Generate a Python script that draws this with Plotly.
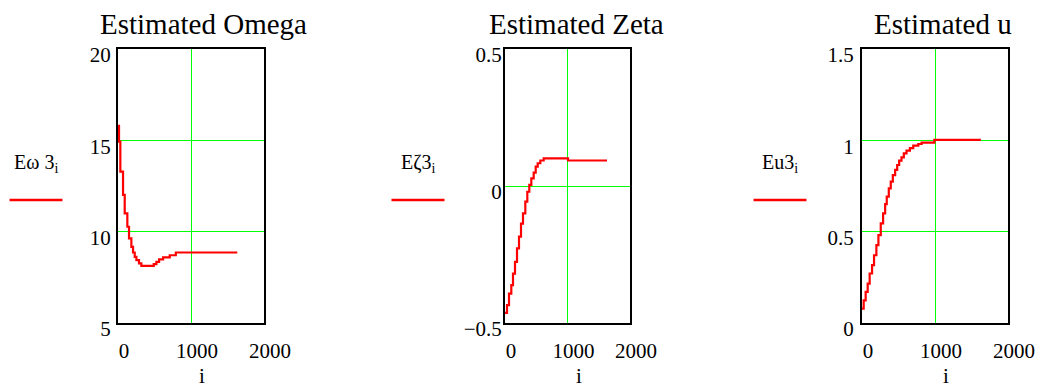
import plotly.graph_objects as go

# ---- data ----
omega_i = [0, 14, 32, 69, 92, 128, 151, 183, 206, 229, 252, 288, 320, 458, 490, 526, 563, 618, 709, 792, 1634]
omega_v = [15.79, 14.93, 13.29, 12.01, 11.0, 10.27, 9.63, 9.17, 8.86, 8.62, 8.44, 8.26, 8.13, 8.13, 8.22, 8.35, 8.48, 8.59, 8.71, 8.86, 8.86]

zeta_i = [0, 32, 64, 101, 128, 160, 192, 224, 256, 288, 325, 357, 389, 421, 459, 491, 523, 565, 619, 992, 1008, 1632]
zeta_v = [-0.463, -0.435, -0.393, -0.362, -0.32, -0.277, -0.228, -0.185, -0.137, -0.1, -0.057, -0.021, 0.004,
          0.028, 0.049, 0.071, 0.083, 0.093, 0.101, 0.101, 0.093, 0.093]

u_i = [0, 23, 50, 78, 105, 138, 165, 197, 225, 257, 289, 317, 339, 367, 394, 422, 454, 482, 509, 541, 573,
       610, 656, 702, 771, 817, 977, 991, 1628]
u_v = [0.079, 0.124, 0.17, 0.216, 0.271, 0.317, 0.371, 0.426, 0.481, 0.545, 0.6, 0.651, 0.692, 0.737, 0.774,
       0.81, 0.838, 0.865, 0.889, 0.907, 0.929, 0.944, 0.957, 0.971, 0.98, 0.988, 0.988, 1.002, 1.002]

titles = ["Estimated Omega", "Estimated Zeta", "Estimated u"]
legend_labels = ["Eω 3<sub>i</sub>", "Eζ3<sub>i</sub>", "Eu3<sub>i</sub>"]
x_ticks = [0, 1000, 2000]
x_tick_text = ["0", "1000", "2000"]
omega_ticks = [5, 10, 15, 20]
zeta_ticks = [-0.5, 0, 0.5]
u_ticks = [0, 0.5, 1, 1.5]
omega_tick_text = ["5", "10", "15", "20"]
zeta_tick_text = ["\u22120.5", "0", "0.5"]
u_tick_text = ["0", "0.5", "1", "1.5"]
y_ticks = [omega_ticks, zeta_ticks, u_ticks]
y_tick_text = [omega_tick_text, zeta_tick_text, u_tick_text]
y_ranges = [[5, 20], [-0.5, 0.5], [0, 1.5]]

W, H = 1041, 390
# panel pixel geometry
px_left = [118, 505, 862]
px_right = [264, 630, 1008]
py_top, py_bot = 49, 323
title_cx = [203, 576, 943]
legend_cx = [36, 418, 780]
y_standoff = [1, -3, 2]

FONT = "Liberation Serif"
series = [(omega_i, omega_v), (zeta_i, zeta_v), (u_i, u_v)]

fig = go.Figure()
for k in range(3):
    xs, ys = series[k]
    sfx = "" if k == 0 else str(k + 1)
    fig.add_trace(go.Scatter(x=xs, y=ys, mode="lines", line=dict(color="#ff0000", width=2.2, shape="hv"),
                             xaxis="x" + sfx, yaxis="y" + sfx, showlegend=False, hoverinfo="skip"))
    common = dict(showline=True, linecolor="black", linewidth=2, mirror=True, automargin=False,
                  showgrid=True, gridcolor="#00ff00", gridwidth=1, zeroline=False, ticks="",
                  tickfont=dict(family=FONT, size=21, color="black"))
    fig.layout["xaxis" + sfx] = dict(
        domain=[px_left[k] / W, px_right[k] / W], range=[0, 2000], tickvals=x_ticks,
        ticktext=x_tick_text, anchor="y" + sfx, ticklabelshift=6, ticklabelstandoff=8, **common)
    fig.layout["yaxis" + sfx] = dict(
        domain=[1 - py_bot / H, 1 - py_top / H], range=y_ranges[k], tickvals=y_ticks[k],
        ticktext=y_tick_text[k], anchor="x" + sfx, ticklabelshift=6, ticklabelstandoff=y_standoff[k], **common)
    # panel title
    fig.add_annotation(text=titles[k], x=title_cx[k] / W, y=1 - 24 / H, xref="paper", yref="paper",
                       showarrow=False, xanchor="center", yanchor="middle",
                       font=dict(family=FONT, size=29, color="black"))
    # x axis title
    fig.add_annotation(text="i", x=((px_left[k] + px_right[k]) / 2 + 11) / W, y=0,
                       xref="paper", yref="paper", showarrow=False, xanchor="center", yanchor="bottom",
                       font=dict(family=FONT, size=21, color="black"))
    # left legend label + red line
    fig.add_annotation(text=legend_labels[k], x=legend_cx[k] / W, y=1 - 163 / H, xref="paper", yref="paper",
                       showarrow=False, xanchor="center", yanchor="middle",
                       font=dict(family=FONT, size=20, color="black"))
    fig.add_shape(type="line", xref="paper", yref="paper",
                  x0=(legend_cx[k] - 26.5) / W, x1=(legend_cx[k] + 26.5) / W, y0=1 - 200 / H, y1=1 - 200 / H,
                  line=dict(color="#ff0000", width=2.5))

fig.update_layout(width=W, height=H, margin=dict(l=0, r=0, t=0, b=0, autoexpand=False),
                  font=dict(family=FONT, color="black"),
                  paper_bgcolor="white", plot_bgcolor="white")
fig.write_html("out.html")
